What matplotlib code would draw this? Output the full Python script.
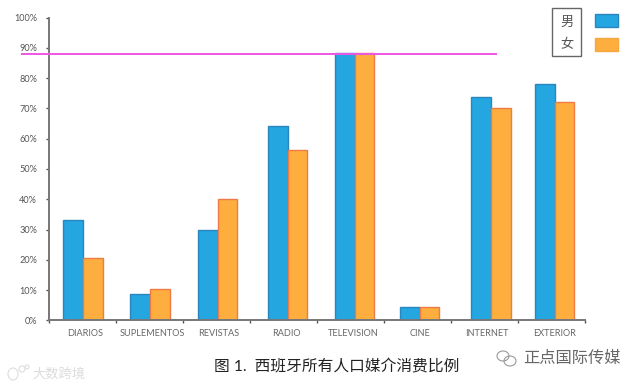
import matplotlib
matplotlib.use("Agg")
import matplotlib.pyplot as plt
from matplotlib.patches import Rectangle, Ellipse, Arc

plt.rcParams['font.family'] = ['Lato', 'Noto Sans CJK SC', 'DejaVu Sans']

categories = ['DIARIOS', 'SUPLEMENTOS', 'REVISTAS', 'RADIO', 'TELEVISION', 'CINE', 'INTERNET', 'EXTERIOR']
male = [33.3, 8.6, 30.0, 64.2, 88.3, 4.3, 73.7, 78.0]
female = [20.5, 10.2, 40.0, 56.3, 88.3, 4.3, 70.2, 72.0]
reference_level = 88
yticks = list(range(0, 101, 10))
title = '图 1.  西班牙所有人口媒介消费比例'
legend_labels = ['男', '女']

BLUE, BLUE_E = '#24a6e0', '#2b86bd'
ORANGE, ORANGE_E = '#fdae3e', '#ee7b45'
W, H = 640, 386

fig = plt.figure(figsize=(6.4, 3.86), dpi=100, facecolor='white')
ax = fig.add_axes([49 / W, 1 - 320.3 / H, 536 / W, 302.6 / H])

# small per-group shifts of the bar pair, in category units
shift = [0.007, 0.007, 0.015, 0.06, 0.063, 0.03, 0.097, 0.045]
bw = 0.295
xs = [i + 0.5 + s for i, s in enumerate(shift)]
ax.bar([x - bw / 2 for x in xs], male, bw, color=BLUE, edgecolor=BLUE_E, linewidth=1)
ax.bar([x + bw / 2 for x in xs], female, bw, color=ORANGE, edgecolor=ORANGE_E, linewidth=1)

ax.set_xlim(0, len(categories))
ax.set_ylim(0, 100)
ax.set_yticks(yticks)
ax.set_yticklabels([f'{v}%' for v in yticks], fontsize=6.6, color='#555555')
ax.set_xticks(range(len(categories) + 1))
ax.set_xticklabels([])
ax.tick_params(axis='both', length=2.5, width=1, color='#555555', direction='out')
ax.tick_params(axis='y', pad=6)
for i, c in enumerate(categories):
    ax.text(i + 0.54, -2.95, c, ha='center', va='top', fontsize=6.6, color='#666666')

for s in ('top', 'right'):
    ax.spines[s].set_visible(False)
for s in ('left', 'bottom'):
    ax.spines[s].set_color('#77777a')
    ax.spines[s].set_linewidth(1.4)

# reference line extends past the axes on both sides
ax.plot([-0.40, 6.67], [reference_level, reference_level], color='#ee55e6', lw=1.4,
        clip_on=False, zorder=5)

# manual legend
fig.add_artist(Rectangle((552 / W, 1 - 55.5 / H), 29 / W, 48 / H, transform=fig.transFigure,
                         fc='white', ec='#666666', lw=1))
fig.text(567.5 / W, 1 - 21.5 / H, legend_labels[0], ha='center', va='center', fontsize=9.5, color='#555555')
fig.text(567.5 / W, 1 - 43.5 / H, legend_labels[1], ha='center', va='center', fontsize=9.5, color='#555555')
for y0, fc, ec in ((14, BLUE, BLUE_E), (38, ORANGE, '#f5a83f')):
    fig.add_artist(Rectangle((594.5 / W, 1 - (y0 + 13) / H), 23.5 / W, 13 / H, transform=fig.transFigure,
                             fc=fc, ec=ec, lw=1))

fig.text(336.5 / W, 1 - 366.5 / H, title, ha='center', va='center', fontsize=11.3, color='#222222')

# watermarks
fig.text(572 / W, 1 - 358 / H, '正点国际传媒', ha='center', va='center', fontsize=11.7, color='#666666')
fig.text(59 / W, 1 - 373.5 / H, '大数跨境', ha='center', va='center', fontsize=9.5, color='#dcdcdc')
for cx, cy, rx, ry, col in ((503, 356, 6, 5, '#999999'), (510, 361, 6, 5, '#999999'),
                            (13, 374, 5, 6, '#dddddd'), (22, 369, 3, 3, '#dddddd'), (27, 367, 2, 2, '#dddddd')):
    fig.add_artist(Ellipse((cx / W, 1 - cy / H), 2 * rx / W, 2 * ry / H, transform=fig.transFigure,
                           fc='none', ec=col, lw=0.8))

fig.savefig('out.png', dpi=100)
